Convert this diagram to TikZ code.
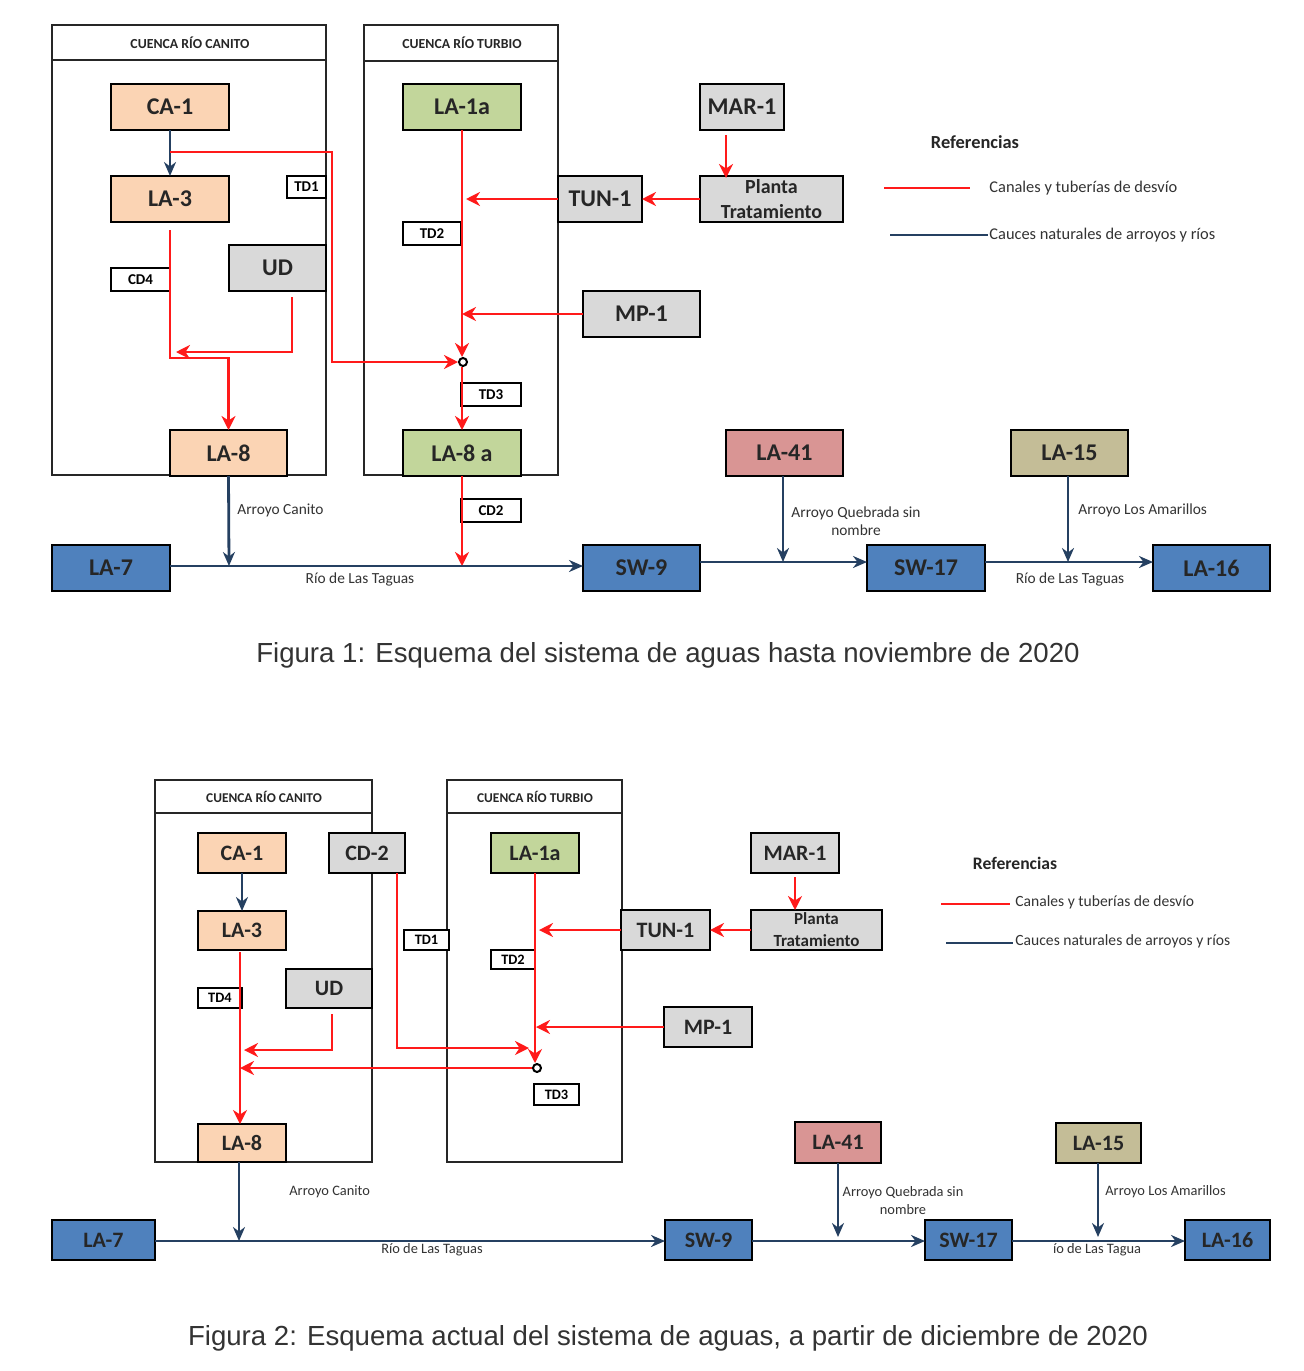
\documentclass[tikz,border=0pt]{standalone}
\usepackage{fontspec}
\setmainfont{Carlito}
\newfontfamily\capfont{Liberation Sans}
\usetikzlibrary{arrows.meta,calc}
\definecolor{peach}{HTML}{FBD4B4}
\definecolor{lgreen}{HTML}{C2D69B}
\definecolor{boxgray}{HTML}{D9D9D9}
\definecolor{bluebox}{HTML}{4F81BD}
\definecolor{pinkbox}{HTML}{D99594}
\definecolor{tanbox}{HTML}{C4BD97}
\definecolor{riverblue}{HTML}{254061}
\definecolor{pipered}{HTML}{FF1A1A}
\tikzset{
 box/.style={draw=black, line width=0.7pt, inner sep=0pt, outer sep=0pt, text=black!85, font=\fontsize{12}{13}\selectfont\bfseries},
 boxs/.style={box, font=\fontsize{11}{12}\selectfont\bfseries},
 sz/.style 2 args={minimum width=#1*0.5pt, minimum height=#2*0.5pt},
 tag/.style={draw=black, line width=0.7pt, fill=white, inner sep=0pt, outer sep=0pt, font=\fontsize{7.5}{8}\selectfont\bfseries},
 basin/.style={draw=black!85, line width=0.7pt},
 hdr/.style={inner sep=0pt, font=\fontsize{6.9}{8}\selectfont\bfseries, text=black!85},
 rline/.style={draw=pipered, line width=1.3pt},
 rarrow/.style={rline, -{Stealth[length=7pt,width=7pt]}},
 bline/.style={draw=riverblue, line width=1.4pt},
 barrow/.style={bline, -{Stealth[length=7pt,width=6pt]}},
 lab/.style={inner sep=0pt, text=black!80, font=\fontsize{7.7}{9}\selectfont},
 labs/.style={lab, font=\fontsize{7.2}{9}\selectfont},
 leg/.style={inner sep=0pt, anchor=west, text=black!80, font=\fontsize{8.2}{9}\selectfont},
 legh/.style={inner sep=0pt, text=black!85, font=\fontsize{9.2}{10}\selectfont\bfseries},
 jdot/.style={circle, draw=black, fill=white, line width=1pt, minimum size=4pt, inner sep=0pt},
 capt/.style={inner sep=0pt, text=black!80, font=\capfont\fontsize{13.8}{15}\selectfont},
}
\begin{document}
\begin{tikzpicture}[x=0.5pt, y=-0.5pt]
\fill[white] (0,0) rectangle (1304,1371);
\useasboundingbox (0,0) rectangle (1304,1371);

%%%%%%%%%%%%%%%% FIGURE 1 %%%%%%%%%%%%%%%%
\draw[basin] (52,25) rectangle (326,475);
\draw[basin] (52,60) -- (326,60);
\node[hdr] (hcanA) at (190,43) {CUENCA RÍO CANITO};
\draw[basin] (364,25) rectangle (558,475);
\draw[basin, line width=1.2pt] (364,25) -- (558,25);
\draw[basin, line width=1.2pt] (364,61) -- (558,61);
\node[hdr] (hturA) at (462,43) {CUENCA RÍO TURBIO};

\node[box, fill=peach, sz={118}{46}] (ca1A) at (170,107) {CA-1};
\node[box, fill=peach, sz={118}{46}] (la3A) at (170,199) {LA-3};
\node[box, fill=boxgray, sz={97}{46}] (udA) at (277.5,268) {UD};
\node[box, fill=peach, sz={117}{46}] (la8A) at (228.5,453) {LA-8};
\node[box, fill=lgreen, sz={118}{46}] (la1aA) at (462,107) {LA-1a};
\node[box, fill=lgreen, sz={118}{46}] (la8aA) at (462,453) {LA-8 a};
\node[box, fill=boxgray, sz={84}{46}] (mar1A) at (742,107) {MAR-1};
\node[box, fill=boxgray, sz={143}{46}, align=center, font=\fontsize{10}{12.5}\selectfont\bfseries] (plantaA) at (771.5,199) {Planta\\Tratamiento};
\node[box, fill=boxgray, sz={84}{46}] (tun1A) at (600,199) {TUN-1};
\node[box, fill=boxgray, sz={117}{46}] (mp1A) at (641.5,314) {MP-1};
\node[box, fill=bluebox, sz={118}{46}] (la7A) at (111,568) {LA-7};
\node[box, fill=bluebox, sz={117}{46}] (sw9A) at (641.5,568) {SW-9};
\node[box, fill=bluebox, sz={118}{46}] (sw17A) at (926,568) {SW-17};
\node[box, fill=bluebox, sz={117}{46}] (la16A) at (1211.5,568) {LA-16};
\node[box, fill=pinkbox, sz={117}{46}] (la41A) at (784.5,453) {LA-41};
\node[box, fill=tanbox, sz={117}{46}] (la15A) at (1069.5,453) {LA-15};

\node[tag, sz={39}{22}] (td1A) at (306.5,187) {TD1};
\node[tag, sz={59}{23}] (cd4A) at (140.5,279.5) {CD4};
\node[tag, sz={58}{23}] (td2A) at (432,233.5) {TD2};
\node[tag, sz={60}{23}] (td3A) at (491,394.5) {TD3};
\node[tag, sz={60}{23}] (cd2A) at (491,510.5) {CD2};

% connectors fig 1
\node[jdot] (j1) at (463,362) {};
\coordinate (t1s) at (170,152);
\coordinate (t1c) at (332,152);
\coordinate (c4A) at (170,358);
\coordinate (udcA) at (292,352);
\coordinate (rivA) at (229,566);
\coordinate (rivB) at (462,566);
\coordinate (tribA) at (783,562);
\coordinate (tribB) at (1068,562);

\draw[barrow] (ca1A.south) -- (la3A.north);
\draw[rarrow] (t1s) -- (t1c) |- (j1.west);
\draw[rarrow] (la1aA.south) -- (la1aA.south |- j1.north);
\draw[rarrow] (j1.south -| la1aA.south) -- (la8aA.north);
\draw[rarrow] (tun1A.west) -- ([xshift=2pt]tun1A.west -| la1aA.south);
\draw[rarrow] (mp1A.west) -- (mp1A.west -| la1aA.south);
\draw[rarrow] ($(mar1A.south)+(-16,5)$) -- ($(mar1A.south |- plantaA.north)+(-16,2)$);
\draw[rarrow] (plantaA.west) -- (tun1A.east);
\draw[rarrow] ([yshift=-4pt]la3A.south) -- (c4A) -| (la8A.north);
\draw[rarrow] ([yshift=-3pt]udA.south -| udcA) -- (udcA) -- ([xshift=3pt]udcA -| la3A.south);
\draw[barrow] (la8A.south) -- (rivA);
\draw[rarrow] (la8aA.south) -- (rivB);
\draw[barrow] (la7A.east |- rivA) -- (sw9A.west |- rivA);
\draw[barrow] (sw9A.east |- tribA) -- (sw17A.west |- tribA);
\draw[barrow] (la41A.south -| tribA) -- (tribA);
\draw[barrow] (sw17A.east |- tribB) -- (la16A.west |- tribB);
\draw[barrow] (la15A.south -| tribB) -- (tribB);

\node[lab, anchor=west] (lcanA) at (237,510) {Arroyo Canito};
\node[lab] (ltagA) at (360,579) {Río de Las Taguas};
\node[lab, align=center] (lqueA) at (856,521) {Arroyo Quebrada sin\\nombre};
\node[lab, anchor=west] (lamaA) at (1078,510) {Arroyo Los Amarillos};
\node[lab] (ltagB) at (1070,579) {Río de Las Taguas};

% legend fig 1
\node[legh] (refA) at (975,142) {Referencias};
\coordinate (lr1a) at (884,188);
\coordinate (lr1b) at (970,188);
\coordinate (lb1a) at (890,235);
\coordinate (lb1b) at (988,235);
\draw[rline] (lr1a) -- (lr1b);
\draw[bline] (lb1a) -- (lb1b);
\node[leg] (legrA) at (989,188) {Canales y tuberías de desvío};
\node[leg] (legbA) at (989,235) {Cauces naturales de arroyos y ríos};

\node[capt] (cap1) at (668,655) {Figura 1: Esquema del sistema de aguas hasta noviembre de 2020};

%%%%%%%%%%%%%%%% FIGURE 2 %%%%%%%%%%%%%%%%
\draw[basin] (155,780) rectangle (372,1162);
\draw[basin] (155,813) -- (372,813);
\draw[basin, line width=1.4pt] (155,1162) -- (372,1162);
\node[hdr, font=\fontsize{6.7}{8}\selectfont\bfseries] (hcanB) at (264,797) {CUENCA RÍO CANITO};
\draw[basin] (447,780) rectangle (622,1162);
\draw[basin] (447,813) -- (622,813);
\node[hdr, font=\fontsize{6.7}{8}\selectfont\bfseries] (hturB) at (535,797) {CUENCA RÍO TURBIO};

\node[boxs, fill=peach, sz={88}{40}] (ca1B) at (242,853) {CA-1};
\node[boxs, fill=boxgray, sz={76}{40}] (cd2B) at (367,853) {CD-2};
\node[boxs, fill=lgreen, sz={88}{40}] (la1aB) at (535,853) {LA-1a};
\node[boxs, fill=peach, sz={88}{39}] (la3B) at (242,930.5) {LA-3};
\node[boxs, fill=boxgray, sz={86}{39}] (udB) at (329,988.5) {UD};
\node[boxs, fill=peach, sz={88}{38}] (la8B) at (242,1143) {LA-8};
\node[boxs, fill=boxgray, sz={88}{40}] (mar1B) at (795,853) {MAR-1};
\node[boxs, fill=boxgray, sz={131}{40}, align=center, font=\fontsize{8.5}{11}\selectfont\bfseries] (plantaB) at (816.5,930) {Planta\\Tratamiento};
\node[boxs, fill=boxgray, sz={89}{40}] (tun1B) at (665.5,930) {TUN-1};
\node[boxs, fill=boxgray, sz={88}{40}] (mp1B) at (708,1027) {MP-1};
\node[boxs, fill=bluebox, sz={103}{40}] (la7B) at (103.5,1240) {LA-7};
\node[boxs, fill=bluebox, sz={87}{40}] (sw9B) at (708.5,1240) {SW-9};
\node[boxs, fill=bluebox, sz={87}{40}] (sw17B) at (968.5,1240) {SW-17};
\node[boxs, fill=bluebox, sz={85}{40}] (la16B) at (1227.5,1240) {LA-16};
\node[boxs, fill=pinkbox, sz={86}{41}] (la41B) at (838,1142.5) {LA-41};
\node[boxs, fill=tanbox, sz={85}{40}] (la15B) at (1098.5,1143) {LA-15};

\node[tag, sz={45}{20}, font=\fontsize{7.2}{8}\selectfont\bfseries] (td1B) at (426.5,940) {TD1};
\node[tag, sz={44}{19}, font=\fontsize{7.2}{8}\selectfont\bfseries] (td2B) at (513,959.5) {TD2};
\node[tag, sz={44}{20}, font=\fontsize{7.2}{8}\selectfont\bfseries] (td4B) at (220,998) {TD4};
\node[tag, sz={45}{21}, font=\fontsize{7.2}{8}\selectfont\bfseries] (td3B) at (556.5,1094.5) {TD3};

% connectors fig 2
\node[jdot] (j2) at (537,1068) {};
\coordinate (cd2c) at (397,1048);
\coordinate (udcB) at (332,1050);
\coordinate (rivC) at (239,1241);
\coordinate (tribC) at (838,1241);
\coordinate (tribD) at (1098,1241);

\draw[barrow] (ca1B.south) -- (la3B.north);
\draw[rarrow] (cd2B.south -| cd2c) -- (cd2c) -- ([xshift=-3pt]cd2c -| la1aB.south);
\draw[rarrow] (la1aB.south) -- (la1aB.south |- j2.north);
\draw[rarrow] (tun1B.west) -- ([xshift=2pt]tun1B.west -| la1aB.south);
\draw[rarrow] (mp1B.west) -- ([xshift=0.5pt]mp1B.west -| la1aB.south);
\draw[rarrow] ([yshift=-2pt]mar1B.south) -- (mar1B.south |- plantaB.north);
\draw[rarrow] (plantaB.west) -- (tun1B.east);
\draw[rarrow] (j2.west) -- ([xshift=-1pt]j2 -| la3B.south);
\draw[rarrow] ([xshift=-1pt,yshift=-1pt]la3B.south) -- ([xshift=-1pt]la8B.north);
\draw[rarrow] ([yshift=-3pt]udB.south -| udcB) -- (udcB) -- ([xshift=1pt]udcB -| la3B.south);
\draw[barrow] ([xshift=-1.5pt]la8B.south) -- (rivC);
\draw[barrow] (la7B.east |- rivC) -- (sw9B.west |- rivC);
\draw[barrow] (sw9B.east |- tribC) -- (sw17B.west |- tribC);
\draw[barrow] (la41B.south -| tribC) -- ([yshift=2pt]tribC);
\draw[barrow] (sw17B.east |- tribD) -- (la16B.west |- tribD);
\draw[barrow] (la15B.south -| tribD) -- ([yshift=2pt]tribD);

\node[labs, anchor=west] (lcanB) at (289,1192) {Arroyo Canito};
\node[labs] (ltagC) at (432,1250) {Río de Las Taguas};
\node[labs, align=center] (lqueB) at (903,1201) {Arroyo Quebrada sin\\nombre};
\node[labs, anchor=west] (lamaB) at (1105,1192) {Arroyo Los Amarillos};
\node[labs] (ltagD) at (1097,1250) {ío de Las Tagua};

% legend fig 2
\node[legh, font=\fontsize{8.8}{10}\selectfont\bfseries] (refB) at (1015,863) {Referencias};
\coordinate (lr2a) at (941,904);
\coordinate (lr2b) at (1010,904);
\coordinate (lb2a) at (946,943);
\coordinate (lb2b) at (1013,943);
\draw[rline] (lr2a) -- (lr2b);
\draw[bline] (lb2a) -- (lb2b);
\node[leg, font=\fontsize{7.8}{9}\selectfont] (legrB) at (1015,902) {Canales y tuberías de desvío};
\node[leg, font=\fontsize{7.8}{9}\selectfont] (legbB) at (1015,941) {Cauces naturales de arroyos y ríos};

\node[capt] (cap2) at (668,1338) {Figura 2: Esquema actual del sistema de aguas, a partir de diciembre de 2020};
\end{tikzpicture}
\end{document}
